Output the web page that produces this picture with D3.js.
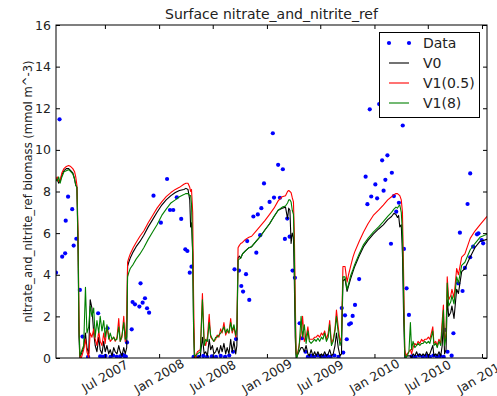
<!DOCTYPE html>
<html>
<head>
<meta charset="utf-8">
<script src="https://cdn.jsdelivr.net/npm/d3@7"></script>
<style>
body { margin: 0; background: #fff; }
svg { display: block; font-family: "DejaVu Sans", sans-serif; }
</style>
</head>
<body>
<svg id="chart" width="497" height="396"></svg>
<script>
// model output dates (shared by the three model runs)
var modelDates = [
  "2007-01-16","2007-01-20","2007-01-25","2007-01-30","2007-02-05","2007-02-12","2007-02-20","2007-02-28","2007-03-07","2007-03-14",
  "2007-03-20","2007-03-24","2007-03-28","2007-04-01","2007-04-04","2007-04-07","2007-04-12","2007-04-20","2007-04-26","2007-05-01",
  "2007-05-07","2007-05-12","2007-05-18","2007-05-24","2007-05-29","2007-06-04","2007-06-10","2007-06-15","2007-06-21","2007-06-27",
  "2007-07-02","2007-07-08","2007-07-14","2007-07-19","2007-07-25","2007-07-31","2007-08-05","2007-08-11","2007-08-17","2007-08-22",
  "2007-08-28","2007-09-03","2007-09-08","2007-09-13","2007-09-16","2007-09-20","2007-09-25","2007-10-05","2007-10-15","2007-10-28",
  "2007-11-10","2007-11-25","2007-12-10","2007-12-25","2008-01-10","2008-01-25","2008-02-10","2008-02-25","2008-03-10","2008-03-25",
  "2008-04-01","2008-04-08","2008-04-14","2008-04-17","2008-04-20","2008-04-24","2008-04-27","2008-04-30","2008-05-03","2008-05-10",
  "2008-05-20","2008-05-27","2008-06-02","2008-06-07","2008-06-13","2008-06-19","2008-06-24","2008-06-30","2008-07-05","2008-07-11",
  "2008-07-16","2008-07-22","2008-07-28","2008-08-02","2008-08-08","2008-08-14","2008-08-19","2008-08-25","2008-08-31","2008-09-05",
  "2008-09-11","2008-09-17","2008-09-21","2008-09-25","2008-09-29","2008-10-04","2008-10-10","2008-10-20","2008-11-01","2008-11-10",
  "2008-11-25","2008-12-10","2008-12-25","2009-01-10","2009-01-25","2009-02-08","2009-02-22","2009-03-05","2009-03-12","2009-03-16",
  "2009-03-20","2009-03-24","2009-03-28","2009-04-01","2009-04-04","2009-04-07","2009-04-10","2009-04-13","2009-04-20","2009-04-27",
  "2009-05-02","2009-05-08","2009-05-14","2009-05-20","2009-05-25","2009-05-31","2009-06-06","2009-06-12","2009-06-17","2009-06-23",
  "2009-06-29","2009-07-05","2009-07-10","2009-07-16","2009-07-22","2009-07-28","2009-08-02","2009-08-08","2009-08-14","2009-08-20",
  "2009-08-25","2009-08-31","2009-09-06","2009-09-11","2009-09-16","2009-09-23","2009-09-30","2009-10-05","2009-10-12","2009-10-20",
  "2009-10-26","2009-11-10","2009-11-25","2009-12-10","2009-12-28","2010-01-15","2010-01-31","2010-02-15","2010-02-28","2010-03-08",
  "2010-03-15","2010-03-20","2010-03-24","2010-03-28","2010-04-02","2010-04-06","2010-04-10","2010-04-14","2010-04-18","2010-04-22",
  "2010-04-28","2010-05-03","2010-05-07","2010-05-12","2010-05-18","2010-05-24","2010-05-29","2010-06-04","2010-06-10","2010-06-15",
  "2010-06-21","2010-06-27","2010-07-03","2010-07-08","2010-07-18","2010-07-22","2010-07-28","2010-08-02","2010-08-08","2010-08-14",
  "2010-08-19","2010-08-23","2010-08-27","2010-09-01","2010-09-05","2010-09-10","2010-09-17","2010-09-21","2010-09-28","2010-10-07",
  "2010-10-13","2010-10-24","2010-11-04","2010-11-22","2010-12-08","2010-12-25","2011-01-18"
];

var v0 = [
  8.5,8.6,8.4,8.5,8.8,9.0,9.1,9.1,9.0,8.9,
  8.6,8.3,8.2,5.0,1.0,0.0,0.2,0.5,1.2,0.5,
  0.2,2.8,2.4,1.2,0.6,0.3,1.0,0.4,0.2,0.8,
  0.3,0.6,0.2,0.4,0.1,0.5,0.3,0.2,0.6,0.3,
  0.1,0.5,0.2,0.5,4.4,4.6,4.8,5.1,5.35,5.6,
  5.9,6.3,6.65,7.0,7.35,7.6,7.8,7.95,8.05,8.1,
  8.15,8.1,7.6,6.3,6.5,5.0,1.5,0.0,0.1,0.0,
  0.1,1.0,0.2,0.3,0.1,0.9,0.4,0.6,0.2,0.3,
  0.5,0.2,0.6,0.3,0.7,0.2,0.5,0.2,0.9,0.3,
  0.8,0.2,0.6,4.8,4.9,4.8,5.0,5.15,5.3,5.35,
  5.6,5.85,6.15,6.45,6.8,7.1,7.2,7.25,6.7,7.2,
  7.1,5.5,6.0,5.8,3.7,1.0,0.0,0.1,0.3,0.5,
  0.5,0.3,0.6,0.2,0.1,0.4,0.1,0.3,0.1,0.3,
  0.1,0.2,0.1,0.3,0.1,0.2,0.4,0.1,0.2,0.6,
  1.2,0.5,0.1,0.2,3.7,3.8,3.2,3.45,3.8,4.15,
  4.4,4.9,5.35,5.65,5.95,6.2,6.4,6.65,6.8,6.95,
  6.9,6.75,6.85,6.3,6.4,5.0,2.0,0.0,0.1,0.1,
  0.1,0.1,0.0,0.2,0.1,0.3,0.1,0.2,0.1,0.2,
  0.1,0.3,0.1,0.2,0.6,0.1,0.2,0.1,0.3,0.1,
  0.6,1.8,0.2,0.4,2.8,2.0,2.2,2.5,1.9,3.3,
  3.1,4.15,4.3,4.85,5.3,5.6,5.7
];

var v1Half = [
  8.6,8.7,8.5,8.55,8.9,9.1,9.2,9.25,9.2,9.1,
  8.95,8.7,8.3,6.0,2.0,0.1,0.0,0.4,0.9,0.3,
  0.0,1.2,1.0,1.4,0.9,0.6,1.3,0.8,0.6,1.2,
  0.7,1.5,1.1,0.8,0.9,1.0,0.8,1.0,1.9,0.8,
  1.0,2.0,0.8,1.9,4.6,4.8,5.0,5.3,5.55,5.85,
  6.1,6.5,6.85,7.2,7.5,7.75,7.95,8.1,8.2,8.35,
  8.4,8.4,8.2,8.0,8.1,7.0,3.0,0.3,0.0,0.3,
  0.4,3.1,0.8,0.6,1.0,2.1,1.0,0.9,0.8,0.9,
  1.1,1.0,1.4,1.2,1.7,1.1,1.3,1.2,1.9,1.2,
  1.5,1.0,1.4,5.3,5.4,5.5,5.55,5.7,5.8,5.85,
  6.1,6.35,6.6,6.9,7.2,7.55,7.75,7.8,8.0,8.05,
  8.0,7.95,7.7,7.5,6.0,3.0,0.3,0.1,0.6,1.2,
  2.0,0.8,1.0,1.5,0.9,0.9,0.9,1.0,1.0,1.1,
  1.0,1.2,1.1,1.3,0.9,1.2,1.8,0.7,0.9,1.4,
  2.3,1.5,0.8,1.0,4.4,4.4,3.65,4.0,4.4,4.85,
  5.1,5.6,6.05,6.45,6.85,7.1,7.35,7.6,7.75,7.85,
  7.9,7.9,7.85,7.8,7.6,7.0,4.0,0.4,0.1,0.2,
  0.3,0.4,0.2,0.5,0.7,0.6,0.8,0.7,0.9,0.8,
  0.9,0.9,1.0,0.9,1.5,0.7,0.8,0.6,0.9,0.7,
  1.8,2.55,0.7,1.2,3.9,2.8,3.0,3.3,2.9,4.3,
  4.0,4.85,5.0,5.75,6.1,6.4,6.8
];

var v1Eight = [
  8.6,8.5,8.7,8.4,8.7,8.95,9.0,9.05,8.95,8.85,
  8.6,8.3,8.2,5.5,1.5,0.1,0.3,0.6,3.4,1.2,
  1.5,2.5,2.0,2.4,1.0,1.8,1.2,2.0,1.3,1.8,
  1.0,1.6,0.9,1.2,0.9,1.0,0.85,0.9,1.5,0.8,
  1.1,1.7,0.9,1.0,3.9,4.1,4.3,4.5,4.75,5.0,
  5.3,5.7,6.05,6.4,6.85,7.15,7.45,7.6,7.75,7.85,
  7.9,7.9,7.8,7.8,7.4,5.0,1.5,0.1,0.1,0.2,
  0.3,2.8,0.6,0.9,0.8,1.7,1.1,0.9,0.8,1.0,
  1.0,1.1,1.2,1.3,1.5,1.2,1.4,1.2,1.7,1.3,
  1.6,1.1,1.5,4.7,4.75,4.8,5.0,5.15,5.3,5.35,
  5.6,5.85,6.15,6.45,6.8,7.1,7.25,7.3,7.45,7.6,
  7.6,7.5,7.1,6.9,5.0,2.0,0.2,0.0,0.5,2.0,
  1.0,1.6,0.7,1.3,0.8,0.7,0.8,0.9,0.8,0.95,
  0.8,1.0,0.9,1.2,0.8,1.0,1.6,0.6,0.8,1.3,
  2.0,1.2,0.6,0.9,3.9,3.9,3.3,3.55,3.95,4.25,
  4.5,5.0,5.45,5.75,6.05,6.3,6.55,6.8,7.0,7.15,
  7.25,7.2,7.3,7.35,7.0,6.0,3.0,0.2,0.0,0.1,
  0.3,1.7,0.4,0.8,0.5,0.6,0.7,0.6,0.7,0.7,
  0.8,0.7,0.8,0.7,1.3,0.6,0.7,0.5,0.8,0.6,
  1.5,2.3,0.6,1.0,3.6,2.5,2.7,3.0,2.6,3.9,
  3.6,4.45,4.6,5.2,5.5,5.8,5.95
];

// observations
var obsDates = [
  "2007-01-16","2007-01-28","2007-02-06","2007-02-16","2007-02-18","2007-02-26","2007-03-12","2007-03-17","2007-03-26","2007-04-07",
  "2007-04-16","2007-05-05","2007-06-08","2007-06-15","2007-06-24","2007-07-03","2007-07-10","2007-07-20","2007-07-29","2007-08-10",
  "2007-08-22","2007-08-30","2007-09-05","2007-09-10","2007-09-14","2007-09-30","2007-10-03","2007-10-11","2007-10-26","2007-10-30",
  "2007-11-06","2007-11-14","2007-11-21","2007-11-28","2007-12-13","2008-01-07","2008-01-28","2008-02-07","2008-02-18","2008-03-01",
  "2008-03-16","2008-03-30","2008-04-06","2008-04-14","2008-04-20","2008-04-27","2008-05-15","2008-05-30","2008-06-12","2008-06-28",
  "2008-07-12","2008-07-28","2008-08-12","2008-08-26","2008-09-08","2008-09-13","2008-09-18","2008-09-28","2008-10-06","2008-10-12",
  "2008-10-22","2008-10-26","2008-11-02","2008-11-16","2008-11-26","2008-12-01","2008-12-09","2008-12-13","2008-12-22","2009-01-10",
  "2009-01-21","2009-01-25","2009-02-08","2009-02-14","2009-02-24","2009-03-03","2009-03-11","2009-03-19","2009-03-29","2009-04-06",
  "2009-04-22","2009-04-30","2009-05-12","2009-05-20","2009-05-30","2009-06-10","2009-06-22","2009-07-03","2009-07-15","2009-07-25",
  "2009-08-05","2009-08-18","2009-09-01","2009-09-12","2009-09-17","2009-09-23","2009-09-29","2009-10-07","2009-10-13","2009-10-19",
  "2009-10-27","2009-11-10","2009-12-02","2009-12-08","2009-12-16","2009-12-21","2010-01-04","2010-01-10","2010-01-17","2010-01-27",
  "2010-02-01","2010-02-07","2010-02-14","2010-02-26","2010-03-01","2010-03-08","2010-03-16","2010-03-25","2010-04-07","2010-04-11",
  "2010-04-20","2010-04-28","2010-05-08","2010-05-20","2010-06-02","2010-06-14","2010-06-26","2010-07-08","2010-07-20","2010-08-01",
  "2010-08-12","2010-08-24","2010-08-28","2010-09-06","2010-09-20","2010-09-26","2010-10-12","2010-10-18","2010-10-27","2010-11-04",
  "2010-11-13","2010-11-22","2010-11-22","2010-12-02","2010-12-15","2010-12-20","2010-12-31","2011-01-05"
];
var obsValues = [
  4.1,11.47,4.87,5.03,6.6,7.75,7.15,5.4,5.73,3.27,
  1.03,0.06,2.15,0.08,0.05,0.1,1.43,0.05,0.12,0.06,
  0.08,0.15,0.1,0.07,0.75,1.38,2.69,2.58,2.47,3.59,
  2.66,2.87,2.39,2.18,7.8,6.5,8.6,7.11,7.11,7.72,
  6.68,5.22,5.14,4.1,4.39,0.06,0.05,0.1,0.05,0.08,
  0.05,0.1,0.06,0.12,0.3,4.26,0.91,4.2,3.46,3.19,
  4.03,5.62,2.79,6.8,5.06,6.9,5.9,7.2,8.39,7.5,
  10.8,7.71,9.28,7.7,9.07,5.72,6.7,5.83,4.2,3.85,
  1.67,0.95,0.3,0.05,0.1,0.06,0.12,0.05,0.08,0.1,
  0.06,0.12,0.05,2.4,0.26,2.05,0.9,1.62,1.67,2.02,
  2.55,3.79,8.71,7.39,11.95,7.76,8.34,7.67,12.2,9.5,
  8.04,8.56,9.74,5.49,8.9,7.78,7.03,7.46,11.17,5.24,
  3.35,2.07,0.08,0.05,0.12,0.06,0.1,0.05,0.12,0.07,
  0.1,0.05,1.35,0.3,0.11,1.19,3.59,6.02,3.22,4.33,
  7.4,8.87,4.84,5.35,5.94,5.99,5.67,5.51
];

var xTickDates = ["2007-07-01","2008-01-01","2008-07-01","2009-01-01","2009-07-01","2010-01-01","2010-07-01","2011-01-01"];
var xTickLabels = ["Jul 2007","Jan 2008","Jul 2008","Jan 2009","Jul 2009","Jan 2010","Jul 2010","Jan 2011"];
var yTicks = [0, 2, 4, 6, 8, 10, 12, 14, 16];
var xDomain = ["2007-01-16", "2011-01-18"];

var titleText = "Surface nitrate_and_nitrite_ref";
var yLabelText = "nitrate_and_nitrite_ref biomass (mmol m^-3)";
var legendLabels = ["Data", "V0", "V1(0.5)", "V1(8)"];

var parse = d3.timeParse("%Y-%m-%d");

// plot box in pixels
var pL = 56, pR = 487, pT = 25, pB = 358;

var svg = d3.select("#chart");

var x = d3.scaleTime()
  .domain(xDomain.map(parse))
  .range([pL, pR]);
var y = d3.scaleLinear()
  .domain([0, 16])
  .range([pB, pT]);

svg.append("defs").append("clipPath").attr("id", "plotclip")
  .append("rect").attr("x", pL).attr("y", pT)
  .attr("width", pR - pL).attr("height", pB - pT);

var plot = svg.append("g").attr("clip-path", "url(#plotclip)");

var obs = obsDates.map(function(d, i){ return {date: parse(d), value: obsValues[i]}; });

plot.selectAll("circle.obs").data(obs).enter().append("circle")
  .attr("class", "obs")
  .attr("cx", function(d){ return x(d.date); })
  .attr("cy", function(d){ return y(d.value); })
  .attr("r", 2.1)
  .attr("fill", "#0000ff");

var series = [
  {name: "V0", values: v0, color: "#000000"},
  {name: "V1(0.5)", values: v1Half, color: "#ff0000"},
  {name: "V1(8)", values: v1Eight, color: "#008000"}
];

var line = d3.line()
  .x(function(d){ return x(d.date); })
  .y(function(d){ return y(d.value); });

series.forEach(function(s){
  var pts = modelDates.map(function(d, i){ return {date: parse(d), value: s.values[i]}; });
  plot.append("path")
    .datum(pts)
    .attr("d", line)
    .attr("fill", "none")
    .attr("stroke", s.color)
    .attr("stroke-width", 1.1)
    .attr("stroke-linejoin", "round");
});

// axes, ticks pointing inward on all four sides
var tickDates = xTickDates.map(parse);
var xAxisB = d3.axisBottom(x).tickValues(tickDates).tickSizeInner(-4).tickSizeOuter(0).tickFormat("");
var xAxisT = d3.axisTop(x).tickValues(tickDates).tickSizeInner(-4).tickSizeOuter(0).tickFormat("");
var yAxisL = d3.axisLeft(y).tickValues(yTicks).tickSizeInner(-4).tickSizeOuter(0).tickFormat("");
var yAxisR = d3.axisRight(y).tickValues(yTicks).tickSizeInner(-4).tickSizeOuter(0).tickFormat("");

[[xAxisB, "translate(0," + pB + ")"], [xAxisT, "translate(0," + pT + ")"],
 [yAxisL, "translate(" + pL + ",0)"], [yAxisR, "translate(" + pR + ",0)"]].forEach(function(a){
  var g = svg.append("g").attr("transform", a[1]).call(a[0]);
  g.select(".domain").remove();
  g.selectAll("line").attr("stroke", "#000").attr("stroke-width", 1);
});

svg.append("rect")
  .attr("x", pL).attr("y", pT)
  .attr("width", pR - pL).attr("height", pB - pT)
  .attr("fill", "none").attr("stroke", "#000").attr("stroke-width", 1);

// tick labels
svg.append("g").selectAll("text").data(yTicks).enter().append("text")
  .attr("x", pL - 5)
  .attr("y", function(d){ return y(d); })
  .attr("dy", "0.36em")
  .attr("text-anchor", "end")
  .attr("font-size", 12.5)
  .attr("fill", "#222")
  .text(function(d){ return d; });

svg.append("g").selectAll("text").data(tickDates).enter().append("text")
  .attr("transform", function(d){ return "translate(" + x(d) + "," + (pB + 18) + ") rotate(-30)"; })
  .attr("text-anchor", "middle")
  .attr("dy", "0.36em")
  .attr("font-size", 12.5)
  .attr("fill", "#222")
  .text(function(d, i){ return xTickLabels[i]; });

svg.append("text")
  .attr("x", (pL + pR) / 2)
  .attr("y", 19)
  .attr("text-anchor", "middle")
  .attr("font-size", 14)
  .attr("fill", "#222")
  .text(titleText);

svg.append("text")
  .attr("transform", "translate(32," + ((pT + pB) / 2) + ") rotate(-90)")
  .attr("text-anchor", "middle")
  .attr("font-size", 11.6)
  .attr("fill", "#222")
  .text(yLabelText);

// legend
var lg = svg.append("g");
lg.append("rect")
  .attr("x", 379.5).attr("y", 32.5).attr("width", 100).attr("height", 85)
  .attr("fill", "#fff").attr("stroke", "#000").attr("stroke-width", 1);

var legendRows = [43, 63, 83, 103];
lg.selectAll("circle").data([389, 409]).enter().append("circle")
  .attr("cx", function(d){ return d; }).attr("cy", legendRows[0])
  .attr("r", 2.1).attr("fill", "#0000ff");
series.forEach(function(s, i){
  lg.append("line")
    .attr("x1", 389).attr("x2", 409)
    .attr("y1", legendRows[i + 1]).attr("y2", legendRows[i + 1])
    .attr("stroke", s.color).attr("stroke-width", 1.1);
});
lg.selectAll("text").data(legendLabels).enter().append("text")
  .attr("x", 423)
  .attr("y", function(d, i){ return legendRows[i]; })
  .attr("dy", "0.36em")
  .attr("font-size", 14)
  .attr("fill", "#222")
  .text(function(d){ return d; });
</script>
</body>
</html>
